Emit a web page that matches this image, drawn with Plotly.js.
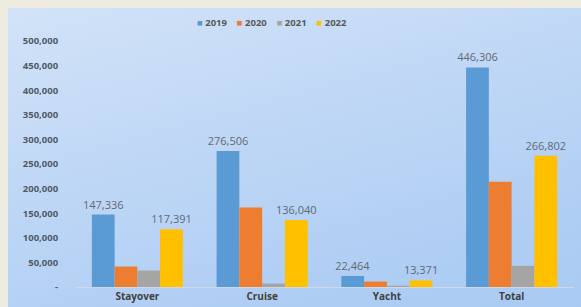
<!DOCTYPE html>
<html>
<head>
<meta charset="utf-8">
<script src="https://cdn.plot.ly/plotly-3.0.1.min.js"></script>
<style>
  html, body { margin: 0; padding: 0; width: 581px; height: 307px; overflow: hidden; background: #eeebe1; }
  #bg { position: absolute; left: 8px; top: 8px; width: 573px; height: 299px;
        background: linear-gradient(165deg, #d2e3f8 0%, #c2d9f6 35%, #b3d0f4 70%, #a9caf3 100%); }
  #chart { position: absolute; left: 0; top: 0; width: 581px; height: 307px; }
  #toptitle { position: absolute; left: 248px; top: -23px; width: 100px; text-align: center;
              font-family: "Liberation Sans", sans-serif; font-weight: bold; font-size: 27px;
              line-height: 27px; color: #111111; z-index: 5; }
</style>
</head>
<body>
<div id="bg"></div>
<div id="chart"></div>
<div id="toptitle"></div>
<script>
const categories = ["Stayover", "Cruise", "Yacht", "Total"];
const years = ["2019", "2020", "2021", "2022"];
const values2019 = [147336, 276506, 22464, 446306];
const values2020 = [41500, 161500, 11000, 214000];
const values2021 = [33500, 7000, 2500, 43000];
const values2022 = [117391, 136040, 13371, 266802];
const showLabels = [true, false, false, true];
const colors = ["#5B9BD5", "#ED7D31", "#A5A5A5", "#FFC000"];
const yTickVals = [0, 50000, 100000, 150000, 200000, 250000, 300000, 350000, 400000, 450000, 500000];
const yTickText = ["-", "50,000", "100,000", "150,000", "200,000", "250,000", "300,000", "350,000", "400,000", "450,000", "500,000"];
const chartTitle = "2022";

document.getElementById("toptitle").textContent = chartTitle;

const series = [values2019, values2020, values2021, values2022];
const fmt = v => v.toLocaleString("en-US");
const FONT = "Open Sans, Liberation Sans, sans-serif";

const traces = series.map((vals, i) => ({
  type: "bar",
  name: years[i],
  x: categories,
  y: vals,
  marker: { color: colors[i] },
  text: showLabels[i] ? vals.map(fmt) : vals.map(() => ""),
  textposition: "outside",
  texttemplate: "%{text}",
  constraintext: "none",
  textfont: { family: FONT, size: 11, color: "#626974" },
  cliponaxis: false,
  showlegend: false,
  hoverinfo: "x+y+name"
}));

// Compact legend built from the series names and colours
const legendText = years.map((y, i) =>
  "<span style='color:" + colors[i] + "'>■</span> " + y
).join("&nbsp;&nbsp;&nbsp;&nbsp;");

const layout = {
  width: 581,
  height: 307,
  margin: { l: 75, r: 7, t: 41, b: 20, pad: 0 },
  paper_bgcolor: "rgba(0,0,0,0)",
  plot_bgcolor: "rgba(0,0,0,0)",
  barmode: "group",
  bargap: 0.27,
  bargroupgap: 0,
  showlegend: false,
  xaxis: {
    type: "category",
    showline: true,
    linecolor: "#cdd9e6",
    linewidth: 1,
    showgrid: false,
    zeroline: false,
    ticks: "",
    tickfont: { family: FONT, size: 10, color: "#404040", weight: "bold" }
  },
  yaxis: {
    range: [0, 500000],
    tickvals: yTickVals,
    ticktext: yTickText,
    showgrid: false,
    zeroline: false,
    showline: false,
    ticks: "outside",
    ticklen: 14,
    tickcolor: "rgba(0,0,0,0)",
    tickfont: { family: FONT, size: 9.5, color: "#505a66", weight: "bold" }
  },
  annotations: [
    {
      text: legendText,
      xref: "paper", yref: "paper",
      x: 0.395, y: 1.077,
      xanchor: "center", yanchor: "middle",
      showarrow: false,
      font: { family: FONT, size: 9.5, color: "#595959", weight: "bold" }
    }
  ]
};

Plotly.newPlot("chart", traces, layout, { displayModeBar: false, staticPlot: true });
</script>
</body>
</html>
